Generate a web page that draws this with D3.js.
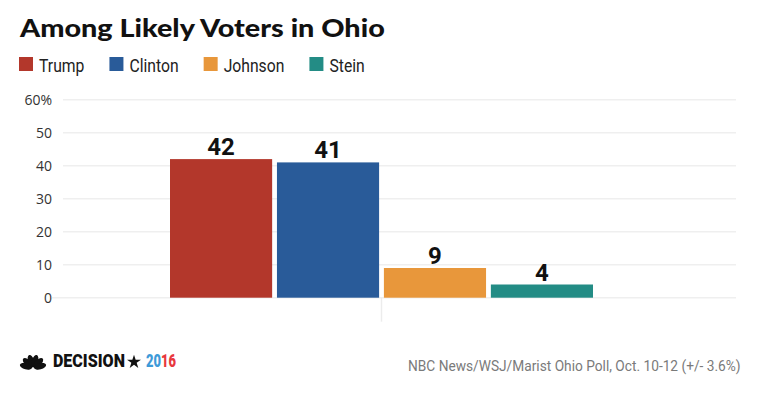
<!DOCTYPE html>
<html>
<head>
<meta charset="utf-8">
<script src="https://cdn.jsdelivr.net/npm/d3@7"></script>
<style>
  html, body { margin: 0; padding: 0; background: #fff; }
  svg { display: block; }
</style>
</head>
<body>
<svg id="chart" width="760" height="399"></svg>
<script>
// ---- data ----
const title = "Among Likely Voters in Ohio";
const candidates = ["Trump", "Clinton", "Johnson", "Stein"];
const values = [42, 41, 9, 4];
const colors = ["#b3372b", "#295b99", "#e8973b", "#238c85"];
const yTicks = [0, 10, 20, 30, 40, 50, 60];
const yMax = 60;
const source = "NBC News/WSJ/Marist Ohio Poll, Oct. 10-12 (+/- 3.6%)";
const brandWord = "DECISION";
const brandYearA = "20";
const brandYearB = "16";

const svg = d3.select("#chart");

// horizontally squeeze a text (placed at x=0 in its own group) to a width
function squeezed(parent, tx, ty, width, anchor, setup) {
  const g = parent.append("g");
  const t = g.append("text").attr("x", 0).attr("y", 0);
  setup(t);
  const natural = t.node().getComputedTextLength();
  const sx = width / natural;
  const dx = anchor === "end" ? tx - width : tx;
  g.attr("transform", `translate(${dx},${ty}) scale(${sx},1)`);
  return t;
}

// ---- scales ----
const y = d3.scaleLinear().domain([0, yMax]).range([297.7, 99.7]);
const xGroup = d3.scaleBand().domain(["Ohio"]).range([63, 700]);
const x = d3.scaleBand().domain(candidates).range([170, 593]).paddingInner(0.045);

// ---- title ----
squeezed(svg, 20, 37, 365, "start", t => t
  .attr("font-family", "Lato, 'Open Sans', sans-serif")
  .attr("font-weight", 900)
  .attr("font-size", 25)
  .attr("fill", "#111")
  .text(title));

// ---- legend ----
const legend = svg.append("g").attr("class", "legend");
let lx = 19;
candidates.forEach((c, i) => {
  legend.append("rect").attr("x", lx).attr("y", 57).attr("width", 14).attr("height", 14).attr("fill", colors[i]);
  const probe = legend.append("text")
    .attr("font-family", "Roboto, sans-serif").attr("font-size", 18.5).text(c);
  const w = probe.node().getComputedTextLength() * 0.85;
  probe.remove();
  squeezed(legend, lx + 20, 71.5, w, "start", t => t
    .attr("font-family", "Roboto, sans-serif")
    .attr("font-size", 18.5)
    .attr("fill", "#222")
    .text(c));
  lx += 20 + w + 25;
});

// ---- gridlines & y axis ----
const grid = svg.append("g").attr("class", "grid");
grid.selectAll("line").data(yTicks).join("line")
  .attr("x1", d => d === 0 ? 52 : 63)
  .attr("x2", 736)
  .attr("y1", d => y(d)).attr("y2", d => y(d))
  .attr("stroke", "#efefef")
  .attr("stroke-width", 1.6);

const yAxis = d3.axisLeft(y).tickValues(yTicks).tickSize(0).tickPadding(0)
  .tickFormat(d => d === yMax ? d + "%" : d);
const ya = svg.append("g").attr("transform", "translate(52,0)").call(yAxis);
ya.select(".domain").remove();
ya.selectAll("text")
  .attr("font-family", "'Open Sans', sans-serif")
  .attr("font-size", 14)
  .attr("fill", "#333")
  .attr("dy", "0.35em");

// ---- x axis tick (single group) ----
const xa = svg.append("g").attr("transform", `translate(0,${y(0)})`)
  .call(d3.axisBottom(xGroup).tickSize(24).tickFormat(""));
xa.select(".domain").remove();
xa.selectAll("line").attr("stroke", "#ececec").attr("stroke-width", 1.5);

// ---- bars ----
const rows = candidates.map((c, i) => ({ c, v: values[i], col: colors[i] }));
svg.append("g").selectAll("rect").data(rows).join("rect")
  .attr("x", d => x(d.c))
  .attr("width", x.bandwidth())
  .attr("y", d => y(d.v))
  .attr("height", d => y(0) - y(d.v))
  .attr("fill", d => d.col);

svg.append("g").selectAll("text").data(rows).join("text")
  .attr("x", d => x(d.c) + x.bandwidth() / 2)
  .attr("y", d => y(d.v) - 4)
  .attr("text-anchor", "middle")
  .attr("font-family", "Roboto, sans-serif")
  .attr("font-weight", 700)
  .attr("font-size", 24)
  .attr("fill", "#111")
  .text(d => d.v);

// ---- footer: brand ----
const brand = svg.append("g");
const peacock = brand.append("g").attr("transform", "translate(33,368)");
[-76, -46, -16, 16, 46, 76].forEach(a => {
  peacock.append("ellipse")
    .attr("cx", 0).attr("cy", -7.2)
    .attr("rx", 3.1).attr("ry", 6.3)
    .attr("transform", `rotate(${a})`)
    .attr("fill", "#111");
});
squeezed(brand, 53, 367, 72, "start", t => t
  .attr("font-family", "Roboto, sans-serif")
  .attr("font-weight", 900)
  .attr("font-size", 18.5)
  .attr("fill", "#111")
  .text(brandWord));
brand.append("path")
  .attr("transform", "translate(134,362)")
  .attr("d", d3.symbol(d3.symbolStar, 60)())
  .attr("fill", "#111");
squeezed(brand, 146, 367, 30, "start", t => {
  t.attr("font-family", "Roboto, sans-serif")
   .attr("font-weight", 900)
   .attr("font-size", 18.5);
  t.append("tspan").attr("fill", "#3d9ad8").text(brandYearA);
  t.append("tspan").attr("fill", "#e8383d").text(brandYearB);
});

// ---- footer: source ----
squeezed(svg, 741, 371, 333, "end", t => t
  .attr("font-family", "Roboto, sans-serif")
  .attr("font-size", 15.5)
  .attr("fill", "#7a7a7a")
  .text(source));
</script>
</body>
</html>
